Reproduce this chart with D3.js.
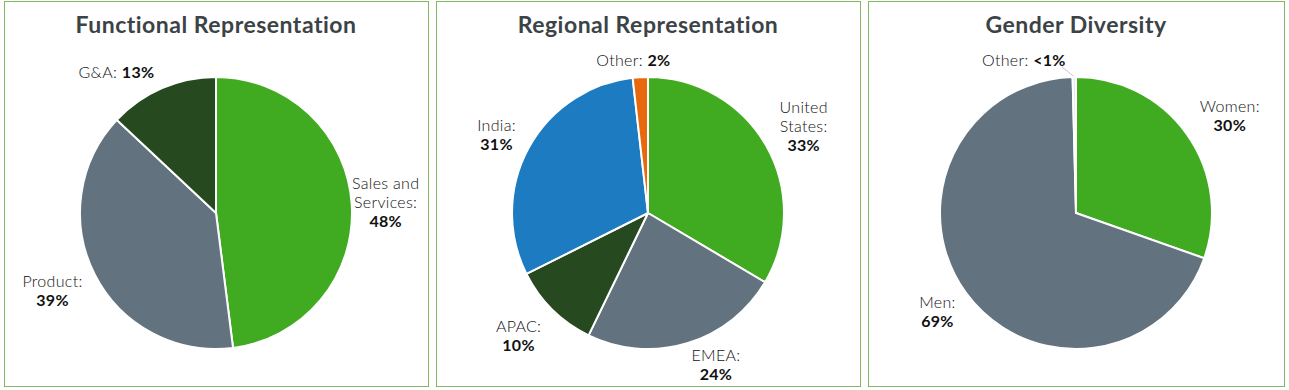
<!DOCTYPE html>
<html>
<head>
<meta charset="utf-8">
<script src="https://cdn.jsdelivr.net/npm/d3@7"></script>
<style>
  html, body { margin: 0; padding: 0; background: #fff; }
  svg { display: block; font-family: Lato, "Open Sans", sans-serif; }
</style>
</head>
<body>
<svg id="chart" width="1289" height="390"></svg>
<script>
// chart values
const titles = ["Functional Representation", "Regional Representation", "Gender Diversity"];

const functionalNames = ["Sales and\nServices", "Product", "G&A"];
const functionalValues = [48, 39, 13];
const functionalText = ["48%", "39%", "13%"];

const regionalNames = ["United\nStates", "EMEA", "APAC", "India", "Other"];
const regionalValues = [33.5, 23.7, 10.4, 30.6, 1.8];
const regionalText = ["33%", "24%", "10%", "31%", "2%"];

const genderNames = ["Women", "Men", "Other"];
const genderValues = [30.4, 69.2, 0.4];
const genderText = ["30%", "69%", "<1%"];

// look
const colors = {
  green: "#40ab20", slate: "#62737f", forest: "#27491f",
  blue: "#1c7bc1", orange: "#e8690d", pale: "#ebe7f2"
};
const functionalColors = [colors.green, colors.slate, colors.forest];
const regionalColors = [colors.green, colors.slate, colors.forest, colors.blue, colors.orange];
const genderColors = [colors.green, colors.slate, colors.pale];

// small hand nudges for label placement, [dx, dy] per slice
const functionalNudge = [[0, 0], [-12, 1], [-32, 15]];
const regionalNudge = [[8, -3], [19, -11], [-10, 2], [-2, 3], [-5, 17]];
const genderNudge = [[15, 1], [-1, -1], [-50, 17]];

const panels = [
  {x: 4, w: 424, names: functionalNames, values: functionalValues, text: functionalText, colors: functionalColors, nudge: functionalNudge},
  {x: 436, w: 424, names: regionalNames, values: regionalValues, text: regionalText, colors: regionalColors, nudge: regionalNudge},
  {x: 868, w: 416, names: genderNames, values: genderValues, text: genderText, colors: genderColors, nudge: genderNudge, leader: 2}
];

const svg = d3.select("#chart");
const radius = 136, labelRadius = 170, lineH = 19, cap = 11.5;

const pie = d3.pie().sort(null).value(d => d.value);
const arc = d3.arc().innerRadius(0).outerRadius(radius);
const labelArc = d3.arc().innerRadius(labelRadius).outerRadius(labelRadius);

panels.forEach((p, pi) => {
  const g = svg.append("g");
  g.append("rect")
      .attr("x", p.x + 0.5).attr("y", 1.5)
      .attr("width", p.w).attr("height", 385)
      .attr("fill", "none")
      .attr("stroke", "#82b763")
      .attr("stroke-width", 1);

  const cx = p.x + p.w / 2, cy = 213;

  g.append("text")
      .attr("x", cx).attr("y", 33)
      .attr("text-anchor", "middle")
      .attr("font-size", 23)
      .attr("letter-spacing", 0.5)
      .attr("font-weight", 700)
      .attr("fill", "#3c4346")
      .text(titles[pi]);

  const data = p.values.map((v, i) => ({name: p.names[i], value: v, text: p.text[i], color: p.colors[i], nudge: p.nudge[i]}));
  const arcs = pie(data);

  const pieG = g.append("g").attr("transform", `translate(${cx},${cy})`);
  pieG.selectAll("path")
    .data(arcs)
    .join("path")
      .attr("d", arc)
      .attr("fill", d => d.data.color)
      .attr("stroke", "#fff")
      .attr("stroke-width", 2)
      .attr("stroke-linejoin", "round");

  arcs.forEach((a, i) => {
    const c = labelArc.centroid(a);
    const lx = c[0] + a.data.nudge[0], ly = c[1] + a.data.nudge[1];
    const mid = (a.startAngle + a.endAngle) / 2;
    const inline = Math.abs(Math.sin(mid)) < 0.5 && Math.cos(mid) > 0;
    const lines = a.data.name.split("\n");
    const n = inline ? 1 : lines.length + 1;
    const y0 = ly - (n - 1) * lineH / 2 + cap / 2;
    const t = pieG.append("text")
        .attr("text-anchor", "middle")
        .attr("font-size", 16)
        .attr("letter-spacing", 0.3)
        .attr("fill", "#111");
    if (inline) {
      t.append("tspan").attr("x", lx).attr("y", y0).attr("font-weight", 300).text(a.data.name + ": ");
      t.append("tspan").attr("font-weight", 700).text(a.data.text);
    } else {
      lines.forEach((ln, k) => {
        t.append("tspan").attr("x", lx).attr("y", y0 + k * lineH)
          .attr("font-weight", 300)
          .text(ln + (k === lines.length - 1 ? ":" : ""));
      });
      t.append("tspan").attr("x", lx).attr("y", y0 + lines.length * lineH)
        .attr("font-weight", 700).text(a.data.text);
    }
    if (p.leader === i) {
      const bb = t.node().getBBox();
      const edge = d3.arc().innerRadius(radius).outerRadius(radius).centroid(a);
      pieG.append("path")
          .attr("d", d3.line()([[bb.x + bb.width - 4, bb.y + bb.height - 2], [edge[0] - 1, edge[1] - 1]]))
          .attr("fill", "none")
          .attr("stroke", "#c9bfe0")
          .attr("stroke-width", 1);
    }
  });
});
</script>
</body>
</html>
